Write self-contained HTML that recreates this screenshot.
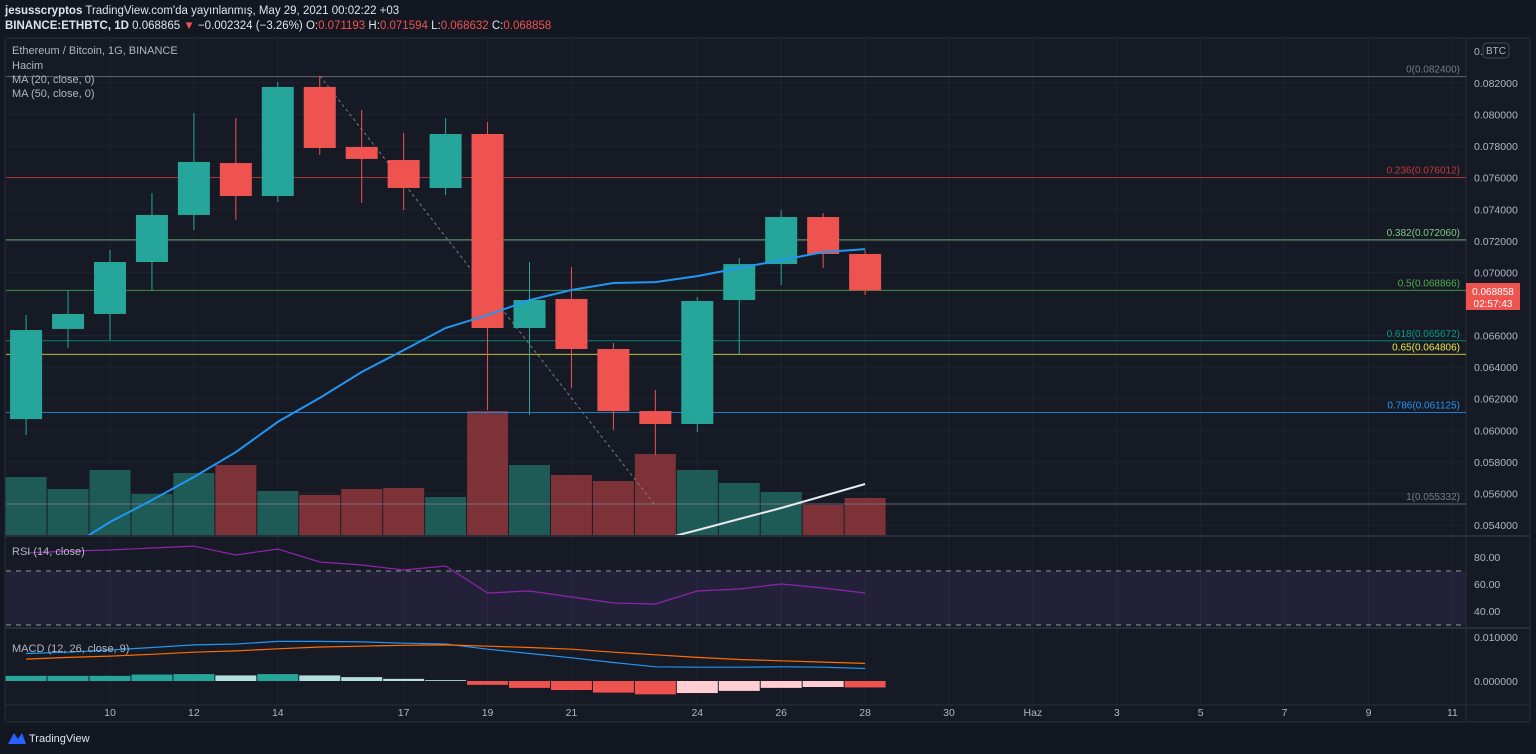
<!DOCTYPE html>
<html><head><meta charset="utf-8">
<style>
html,body{margin:0;padding:0;background:#131722;width:1536px;height:754px;overflow:hidden;font-family:"Liberation Sans",sans-serif}
svg{position:absolute;left:0;top:0}
</style></head><body>
<svg id="c" width="1536" height="754" font-family="Liberation Sans, sans-serif">
<rect x="0" y="0" width="1536" height="754" fill="#131722"/>
<text x="5" y="14" fill="#e0e3eb" font-size="11.5"><tspan font-weight="bold">jesusscryptos</tspan> TradingView.com'da yayınlanmış, May 29, 2021 00:02:22 +03</text>
<text x="5" y="29" fill="#e0e3eb" font-size="11.5"><tspan font-weight="bold">BINANCE:ETHBTC, 1D</tspan> 0.068865 <tspan fill="#ef5350">▼</tspan> −0.002324 (−3.26%) O:<tspan fill="#ef5350">0.071193</tspan> H:<tspan fill="#ef5350">0.071594</tspan> L:<tspan fill="#ef5350">0.068632</tspan> C:<tspan fill="#ef5350">0.068858</tspan></text>
<rect x="5" y="38" width="1525" height="684" fill="#161a25" stroke="#2a2e39"/>
<g id="grid"></g>
<rect x="6" y="571" width="1460" height="54" fill="#7e57c2" fill-opacity="0.13"/>
<line x1="6" y1="571" x2="1466" y2="571" stroke="#9598a1" stroke-dasharray="5,5"/>
<line x1="6" y1="625" x2="1466" y2="625" stroke="#9598a1" stroke-dasharray="5,5"/>
<line x1="5" y1="536" x2="1530" y2="536" stroke="#2a2e39" stroke-width="2"/>
<line x1="5" y1="628" x2="1530" y2="628" stroke="#2a2e39" stroke-width="2"/>
<line x1="5" y1="705" x2="1530" y2="705" stroke="#2a2e39"/>
<line x1="1466" y1="38" x2="1466" y2="722" stroke="#2a2e39"/>
<g id="vol"></g><g id="fib"></g>
<line x1="320" y1="76" x2="655" y2="505" stroke="#787b86" stroke-dasharray="3,3"/>
<g id="candles"></g><g id="ma"></g><g id="rsi"></g><g id="macd"></g><g id="axes"></g>
<text x="12" y="54" fill="#b2b5be" font-size="11">Ethereum / Bitcoin, 1G, BINANCE</text>
<text x="12" y="69" fill="#b2b5be" font-size="11">Hacim</text>
<text x="12" y="83" fill="#b2b5be" font-size="11">MA (20, close, 0)</text>
<text x="12" y="97" fill="#b2b5be" font-size="11">MA (50, close, 0)</text>
<text x="12" y="555" fill="#b2b5be" font-size="11">RSI (14, close)</text>
<text x="12" y="652" fill="#b2b5be" font-size="11">MACD (12, 26, close, 9)</text>
<rect x="1483" y="43" width="26" height="15" rx="4" fill="#161a25" stroke="#434651"/>
<text x="1496" y="54" fill="#b2b5be" font-size="10" text-anchor="middle">BTC</text>
<rect x="1466" y="283" width="54" height="27" fill="#ef5350"/>
<text x="1493" y="295" fill="#fff" font-size="10" text-anchor="middle">0.068858</text>
<text x="1493" y="307" fill="#fff" font-size="10" text-anchor="middle">02:57:43</text>
<g><path d="M8 744 L14 733 L18 739 L22 733 L26 744 Z" fill="#2962ff"/><text x="29" y="742" fill="#e0e3eb" font-size="11">TradingView</text></g>
</svg>
<script>
const days=[8,9,10,11,12,13,14,15,16,17,18,19,20,21,22,23,24,25,26,27,28];
const opens=[0.06071,0.06642,0.06737,0.07066,0.07364,0.07693,0.07484,0.08175,0.07795,0.07712,0.07535,0.07877,0.06648,0.06832,0.06515,0.06122,0.06040,0.06825,0.07053,0.07351,0.07117];
const highs=[0.06730,0.06889,0.07142,0.07503,0.08010,0.07978,0.08206,0.08244,0.08029,0.07883,0.07978,0.07953,0.07066,0.07034,0.06553,0.06255,0.06844,0.07091,0.07395,0.07376,0.07142];
const lows=[0.05970,0.06521,0.06572,0.06889,0.07269,0.07332,0.07446,0.07744,0.07440,0.07395,0.07490,0.06128,0.06097,0.06268,0.06002,0.05843,0.05989,0.06483,0.06920,0.07028,0.06857];
const closes=[0.06635,0.06737,0.07066,0.07364,0.07700,0.07484,0.08175,0.07788,0.07719,0.07535,0.07877,0.06648,0.06825,0.06515,0.06122,0.06040,0.06819,0.07053,0.07351,0.07117,0.06886];
const volumes=[58,46,65,41,62,70,44,40,46,47,38,124,70,60,54,81,65,52,43,30,37];
const ma20=[null,0.05254,0.05419,0.05558,0.05704,0.05862,0.06053,0.06205,0.06369,0.06508,0.06648,0.06730,0.06825,0.06889,0.06933,0.06939,0.06977,0.07028,0.07078,0.07129,0.07148];
const ma50=[null,null,null,null,null,null,null,null,null,null,null,null,null,null,null,0.05299,0.05368,0.05438,0.05508,0.05584,0.05660];
const rsi=[83,84.4,85.2,86.7,88.1,81.5,85.9,76.3,74.1,70.4,73.3,53.3,54.8,50.4,45.9,45.2,54.8,56.3,60,57,53.3];
const macdLine=[0.0064,0.0067,0.0072,0.0078,0.0084,0.0086,0.0092,0.0092,0.0091,0.0088,0.0086,0.0074,0.0064,0.0054,0.0043,0.0033,0.0032,0.0032,0.0033,0.0032,0.0029];
const signalLine=[0.0051,0.0055,0.0058,0.0062,0.0067,0.0070,0.0075,0.0079,0.0081,0.0083,0.0084,0.0081,0.0078,0.0074,0.0067,0.0061,0.0055,0.0050,0.0047,0.0044,0.0041];
const hist=[0.0012,0.0012,0.0012,0.0015,0.0016,0.0013,0.0016,0.0013,0.0009,0.0005,0.0002,-0.0009,-0.0016,-0.0021,-0.0027,-0.0031,-0.0028,-0.0023,-0.0016,-0.0014,-0.0015];
const fibLevels=["0","0.236","0.382","0.5","0.618","0.65","0.786","1"];
const fibPrices=[0.0824,0.076012,0.07206,0.068866,0.065672,0.064806,0.061125,0.055332];
const fibColors=["#787b86","#c0393b","#81c784","#4caf50","#089981","#f0e442","#2196f3","#787b86"];
const priceTicks=[0.082,0.080,0.078,0.076,0.074,0.072,0.070,0.068,0.066,0.064,0.062,0.060,0.058,0.056,0.054];
const rsiTicks=[80,60,40];
const macdTicks=[0.01,0];
const timeLabels=["10","12","14","17","19","21","24","26","28","30","Haz","3","5","7","9","11"];
const timeDays=[10,12,14,17,19,21,24,26,28,30,32,34,36,38,40,42];

const NS="http://www.w3.org/2000/svg";
const X=d=>110+(d-10)*41.95;
const Y=p=>83+(0.082-p)*15786;
const YR=v=>557+(80-v)*1.35;
const YM=v=>681-v*4300;
const YV=v=>535-v;
function mk(tag,parent,attrs){const e=document.createElementNS(NS,tag);for(const k in attrs)e.setAttribute(k,attrs[k]);document.getElementById(parent).appendChild(e);return e;}

priceTicks.forEach(p=>{
 const l=mk('line','grid',{x1:6,x2:1466,y1:Y(p),y2:Y(p),stroke:'#1f2330'});
 
 
 const t=mk('text','axes',{x:1474,y:Y(p)+4,fill:'#b2b5be','font-size':10.5});
 t.textContent=p.toFixed(6);
 
 
});
const topLbl=mk('text','axes',{x:1474,y:55,fill:'#b2b5be','font-size':10.5});topLbl.textContent='0.0';


timeDays.forEach((d,i)=>{
 const l=mk('line','grid',{x1:X(d),x2:X(d),y1:39,y2:705,stroke:'#1f2330'});
 
 
 const t=mk('text','axes',{x:X(d),y:716,fill:'#b2b5be','font-size':10.5,'text-anchor':'middle'});
 t.textContent=timeLabels[i];
 
 
});
rsiTicks.forEach(v=>{
 const t=mk('text','axes',{x:1474,y:YR(v)+4,fill:'#b2b5be','font-size':10.5});t.textContent=v.toFixed(2);
 
 
});
macdTicks.forEach(v=>{
 const t=mk('text','axes',{x:1474,y:YM(v)+4+(v>0?-1:0),fill:'#b2b5be','font-size':10.5});t.textContent=v.toFixed(6);
 
 
});
fibPrices.forEach((p,i)=>{
 const l=mk('line','fib',{x1:6,x2:1466,y1:Y(p),y2:Y(p),stroke:fibColors[i],'stroke-opacity':0.8});
 
 
 const t=mk('text','fib',{x:1460,y:Y(p)-4,fill:fibColors[i],'font-size':10,'text-anchor':'end'});
 t.textContent=fibLevels[i]+'('+p.toFixed(6)+')';
 
 
});
days.forEach((d,i)=>{
 const up=closes[i]>=opens[i];
 const v=mk('rect','vol',{x:X(d)-20.5,y:YV(volumes[i]),width:41,height:volumes[i],fill:up?'#1e5b57':'#7c3236'});
 
 
});
days.forEach((d,i)=>{
 const up=closes[i]>=opens[i];const col=up?'#26a69a':'#ef5350';
 const w=mk('line','candles',{x1:X(d),x2:X(d),y1:Y(highs[i]),y2:Y(lows[i]),stroke:col});
 
 
 const t=Math.min(Y(opens[i]),Y(closes[i]));
 const b=mk('rect','candles',{x:X(d)-16,y:t,width:32,height:Math.max(1,Math.abs(Y(opens[i])-Y(closes[i]))),fill:col});
 
 
});
function path(arr,fx,fy,parent,color,w,name,clip){
 let s='';arr.forEach((v,i)=>{if(v==null)return;s+=(s?'L':'M')+fx(days[i]).toFixed(1)+' '+fy(v).toFixed(1);});
 const p=mk('path',parent,{d:s,fill:'none',stroke:color,'stroke-width':w});
 if(clip)p.setAttribute('clip-path','url(#mainclip)');
 
 
}
const defs=document.createElementNS(NS,'defs');defs.innerHTML='<clipPath id="mainclip"><rect x="6" y="39" width="1460" height="496"/></clipPath>';document.getElementById('c').appendChild(defs);
path(ma20,X,Y,'ma','#2196f3',2,'ma20-line',true);
path(ma50,X,Y,'ma','#e8eaed',2,'ma50-line',true);
path(rsi,X,YR,'rsi','#8e24aa',1.2,'rsi-line');
days.forEach((d,i)=>{
 const v=hist[i];const prev=i>0?hist[i-1]:v;
 const col=v>=0?(v>=prev?'#26a69a':'#b2dfdb'):(v<=prev?'#ef5350':'#ffcdd2');
 const y0=YM(0),y1=YM(v);
 const r=mk('rect','macd',{x:X(d)-20.5,y:Math.min(y0,y1),width:41,height:Math.abs(y1-y0),fill:col});
 
 
});
path(macdLine,X,YM,'macd','#2196f3',1.2,'macd-line');
path(signalLine,X,YM,'macd','#ff6d00',1.2,'signal-line');
</script>
</body></html>
